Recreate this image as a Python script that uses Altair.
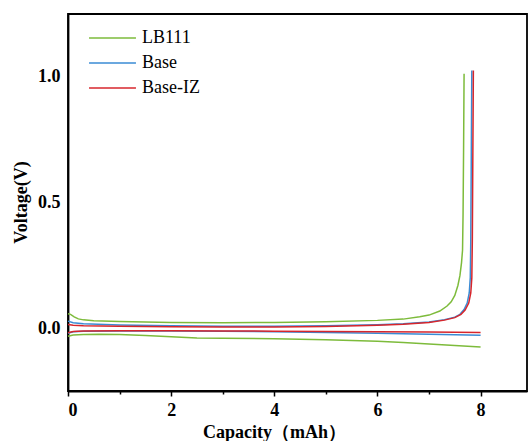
import altair as alt
import pandas as pd

series_names = ["LB111", "Base", "Base-IZ"]
series_colors = ["#7DBB3B", "#3A8BD4", "#D7262C"]

# LB111
lb_up_c = [0, 0.05, 0.12, 0.2, 0.3, 0.5, 1.0, 2.0, 3.0, 4.0, 5.0, 6.0, 6.5, 6.82, 7.0, 7.21, 7.35, 7.43, 7.5, 7.56, 7.6, 7.63, 7.65, 7.66, 7.67, 7.68]
lb_up_v = [0.057, 0.055, 0.045, 0.037, 0.033, 0.030, 0.027, 0.023, 0.022, 0.023, 0.026, 0.031, 0.036, 0.045, 0.052, 0.068, 0.088, 0.105, 0.13, 0.17, 0.21, 0.26, 0.31, 0.45, 0.7, 1.012]
lb_dn_c = [0, 0.1, 0.3, 0.6, 1.0, 1.5, 2.0, 2.5, 3.0, 4.0, 5.0, 6.0, 6.5, 7.0, 7.5, 8.0]
lb_dn_v = [-0.032, -0.027, -0.025, -0.024, -0.025, -0.029, -0.034, -0.039, -0.040, -0.042, -0.046, -0.052, -0.057, -0.063, -0.069, -0.075]

# Base
base_up_c = [0, 0.1, 0.3, 1, 2, 3, 4, 5, 6, 6.5, 7.0, 7.3, 7.5, 7.6, 7.68, 7.74, 7.78, 7.8, 7.81, 7.82, 7.83]
base_up_v = [0.028, 0.022, 0.018, 0.013, 0.010, 0.008, 0.008, 0.010, 0.014, 0.018, 0.025, 0.034, 0.044, 0.055, 0.074, 0.10, 0.14, 0.2, 0.35, 0.7, 1.025]
base_dn_c = [0, 0.1, 0.3, 1, 2, 3, 4, 5, 6, 7, 8]
base_dn_v = [-0.020, -0.014, -0.012, -0.011, -0.011, -0.012, -0.014, -0.017, -0.020, -0.024, -0.028]

# Base-IZ
iz_up_c = [0, 0.1, 0.3, 1, 2, 3, 4, 5, 6, 6.5, 7.0, 7.3, 7.5, 7.62, 7.7, 7.77, 7.81, 7.83, 7.84, 7.85, 7.86]
iz_up_v = [0.015, 0.012, 0.010, 0.008, 0.006, 0.005, 0.005, 0.007, 0.012, 0.016, 0.023, 0.032, 0.042, 0.055, 0.072, 0.10, 0.14, 0.2, 0.35, 0.7, 1.025]
iz_dn_c = [0, 0.1, 0.3, 1, 2, 3, 4, 5, 6, 7, 8]
iz_dn_v = [-0.018, -0.013, -0.011, -0.010, -0.010, -0.011, -0.012, -0.013, -0.014, -0.015, -0.017]

curves = [
    ("LB111", "up", lb_up_c, lb_up_v),
    ("LB111", "down", lb_dn_c, lb_dn_v),
    ("Base", "up", base_up_c, base_up_v),
    ("Base", "down", base_dn_c, base_dn_v),
    ("Base-IZ", "up", iz_up_c, iz_up_v),
    ("Base-IZ", "down", iz_dn_c, iz_dn_v),
]

rows = []
for name, branch, cs, vs in curves:
    for i, (c, v) in enumerate(zip(cs, vs)):
        rows.append({"series": name, "branch": branch, "cap": c, "volt": v, "idx": i})
df = pd.DataFrame(rows)

FONT = "Liberation Serif"

x_enc = alt.X(
    "cap:Q",
    scale=alt.Scale(domain=[0, 8.9], nice=False, zero=False),
    axis=alt.Axis(
        values=list(range(9)),
        format="d",
        labelExpr="datum.value % 2 == 0 ? datum.label : ''",
        tickSize={"condition": {"test": "datum.value % 2 == 1", "value": 3}, "value": 5},
        tickColor="black",
        tickWidth=1.5,
        labelPadding=5,
        title="Capacity（mAh）",
        titleX=206,
        titleY=46,
        titleAlign="center",
        titleBaseline="alphabetic",
        grid=False,
    ),
)
y_enc = alt.Y(
    "volt:Q",
    scale=alt.Scale(domain=[-0.25, 1.25], nice=False, zero=False),
    axis=alt.Axis(
        values=[0, 0.5, 1.0],
        format=".1f",
        ticks=False,
        labelPadding=8,
        title="Voltage(V)",
        titleX=-47,
        titleY=188,
        titleAngle=-90,
        titleAlign="center",
        titleBaseline="middle",
        grid=False,
    ),
)
color_enc = alt.Color(
    "series:N",
    scale=alt.Scale(domain=series_names, range=series_colors),
    legend=alt.Legend(
        title=None,
        orient="none",
        legendX=20,
        legendY=15,
        symbolType="stroke",
        symbolSize=2200,
        symbolStrokeWidth=1.5,
        labelFont=FONT,
        labelFontSize=18,
        labelFontWeight="normal",
        labelColor="black",
        labelOffset=5,
        clipHeight=18,
        rowPadding=7,
        padding=0,
    ),
)

layers = []
for name in series_names:
    layers.append(
        alt.Chart(df)
        .transform_filter(alt.datum.series == name)
        .mark_line(strokeWidth=1.5)
        .encode(
            x=x_enc,
            y=y_enc,
            color=color_enc,
            detail="branch:N",
            order="idx:Q",
        )
    )

chart = (
    alt.layer(*layers)
    .properties(
        width=459,
        height=377,
        background="white",
        autosize=alt.AutoSizeParams(type="none"),
        padding={"left": 68, "top": 14, "right": 1, "bottom": 50},
    )
    .configure_view(stroke="black", strokeWidth=1.8)
    .configure_axis(
        domainColor="black",
        domainWidth=1.8,
        labelFont=FONT,
        labelFontSize=18,
        labelFontWeight="bold",
        labelColor="black",
        titleFont=FONT,
        titleFontSize=18,
        titleFontWeight="bold",
        titleColor="black",
    )
)

chart.save("out.html", embed_options={"renderer": "svg", "actions": False})
